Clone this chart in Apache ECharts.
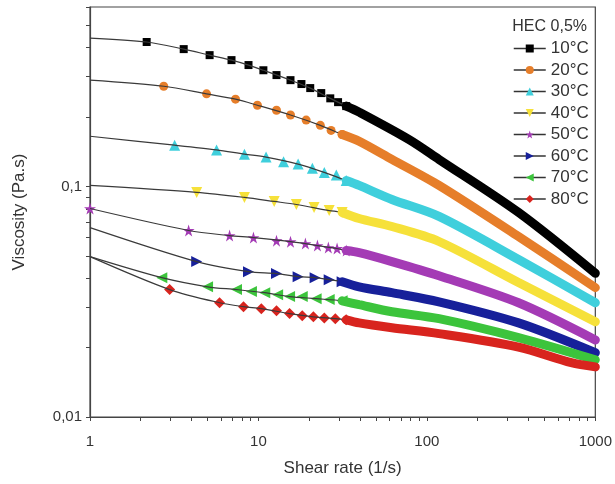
<!DOCTYPE html>
<html>
<head>
<meta charset="UTF-8">
<title>HEC 0,5% viscosity</title>
<script src="https://cdn.jsdelivr.net/npm/echarts@6/dist/echarts.min.js"></script>
<style>
* { margin: 0; padding: 0; }
#main { width: 615px; height: 484px; }
</style>
</head>
<body>
<div id="main"></div>
<script>
var names = ['10°C', '20°C', '30°C', '40°C', '50°C', '60°C', '70°C', '80°C'];
var colors = ['#000000', '#e67e2a', '#3fcfdc', '#f6e13a', '#a43bb5', '#17209a', '#3cc43c', '#d8241e'];
var starPath = 'path://M50,0 L61,35 L98,35 L68,57 L79,91 L50,70 L21,91 L32,57 L2,35 L39,35 Z';
var symbols = ['rect', 'circle', 'triangle', 'triangle', starPath, 'triangle', 'triangle', 'diamond'];
var rotations = [0, 0, 0, 180, 0, -90, 90, 0];
var sizes = [8, 9, 11, 11, 12, 11, 11, 11];

var xMajor = [1, 10, 100, 1000];
var xTicks = [1, 2, 3, 4, 5, 6, 7, 8, 9, 10, 20, 30, 40, 50, 60, 70, 80, 90, 100, 200, 300, 400, 500, 600, 700, 800, 900, 1000];
var yMajor = [0.01, 0.1];
var yTicks = [0.01, 0.02, 0.03, 0.04, 0.05, 0.06, 0.07, 0.08, 0.09, 0.1, 0.2, 0.3, 0.4, 0.5, 0.6];

// thin fitted curves (shear rate, viscosity)
var curve10 = [[1, 0.440], [2.17, 0.423], [3.6, 0.394], [5.13, 0.371], [6.92, 0.353], [8.73, 0.336], [10.7, 0.319], [15.5, 0.289], [20.3, 0.267], [26.7, 0.241], [33.2, 0.223], [39.6, 0.210], [78, 0.160], [118, 0.131], [350, 0.0771], [1000, 0.042]];
var curve20 = [[1, 0.289], [2.74, 0.272], [4.92, 0.252], [7.31, 0.239], [9.86, 0.225], [15.5, 0.204], [23.3, 0.184], [31.4, 0.168], [39.6, 0.157], [62, 0.131], [118, 0.101], [350, 0.0606], [1000, 0.0364]];
var curve30 = [[1, 0.165], [3.18, 0.151], [5.64, 0.144], [8.26, 0.138], [11.1, 0.134], [17.2, 0.125], [24.6, 0.115], [33.2, 0.106], [39.6, 0.101], [62, 0.0878], [118, 0.0741], [350, 0.0482], [1000, 0.0313]];
var curve40 = [[1, 0.101], [4.3, 0.0942], [8.26, 0.0896], [12.4, 0.0861], [16.8, 0.0835], [26.3, 0.0786], [31.4, 0.0771], [39.6, 0.0726], [62, 0.067], [118, 0.0577], [350, 0.0383], [1000, 0.0259]];
var curve50 = [[1, 0.0802], [3.85, 0.0644], [6.74, 0.0612], [9.34, 0.0600], [15.5, 0.0576], [22.4, 0.0554], [29.3, 0.0538], [33.2, 0.0527], [39.6, 0.0516], [62, 0.0472], [118, 0.041], [350, 0.0313], [1000, 0.0216]];
var curve60 = [[1, 0.0663], [4.3, 0.0472], [8.73, 0.0427], [12.8, 0.0419], [17.2, 0.0406], [21.7, 0.0402], [26.3, 0.0394], [31.4, 0.0386], [39.6, 0.0367], [62, 0.0346], [118, 0.0316], [350, 0.0256], [1000, 0.019]];
var curve70 = [[1, 0.0496], [2.67, 0.0402], [4.99, 0.0367], [7.41, 0.0357], [10.9, 0.0346], [15.3, 0.0333], [22.0, 0.0326], [31.4, 0.0319], [39.6, 0.0307], [62, 0.0286], [118, 0.0267], [350, 0.0221], [1000, 0.0177]];
var curve80 = [[1, 0.0496], [2.97, 0.0357], [5.88, 0.0313], [8.15, 0.0301], [10.4, 0.0295], [15.3, 0.0281], [21.2, 0.0272], [28.6, 0.0267], [33.2, 0.0264], [39.6, 0.0256], [62, 0.0244], [118, 0.023], [350, 0.0201], [720, 0.0172], [1000, 0.0165]];

// separate measured markers
var mark10 = [[2.17, 0.423], [3.6, 0.394], [5.13, 0.371], [6.92, 0.353], [8.73, 0.336], [10.7, 0.319], [12.8, 0.304], [15.5, 0.289], [18.0, 0.278], [20.3, 0.267], [23.6, 0.254], [26.7, 0.241], [29.7, 0.232], [33.2, 0.223]];
var mark20 = [[2.74, 0.272], [4.92, 0.252], [7.31, 0.239], [9.86, 0.225], [12.8, 0.214], [15.5, 0.204], [19.2, 0.194], [23.3, 0.184], [27.0, 0.175], [31.4, 0.168]];
var mark30 = [[3.18, 0.151], [5.64, 0.144], [8.26, 0.138], [11.1, 0.134], [14.1, 0.128], [17.2, 0.125], [20.9, 0.120], [24.6, 0.115], [29.0, 0.112], [33.2, 0.106]];
var mark40 = [[4.3, 0.0942], [8.26, 0.0896], [12.4, 0.0861], [16.8, 0.0835], [21.4, 0.0810], [26.3, 0.0786], [31.4, 0.0771]];
var mark50 = [[1, 0.0802], [3.85, 0.0644], [6.74, 0.0612], [9.34, 0.0600], [12.8, 0.0582], [15.5, 0.0576], [19.0, 0.0565], [22.4, 0.0554], [26.0, 0.0543], [29.3, 0.0538], [33.2, 0.0527]];
var mark60 = [[4.3, 0.0472], [8.73, 0.0427], [12.8, 0.0419], [17.2, 0.0406], [21.7, 0.0402], [26.3, 0.0394], [31.4, 0.0386]];
var mark70 = [[2.67, 0.0402], [4.99, 0.0367], [7.41, 0.0357], [9.09, 0.0350], [10.9, 0.0346], [13.0, 0.0339], [15.3, 0.0333], [18.2, 0.0333], [22.0, 0.0326], [26.3, 0.0323], [31.4, 0.0319]];
var mark80 = [[2.97, 0.0357], [5.88, 0.0313], [8.15, 0.0301], [10.4, 0.0295], [12.8, 0.0289], [15.3, 0.0281], [18.2, 0.0275], [21.2, 0.0272], [24.6, 0.0269], [28.6, 0.0267], [33.2, 0.0264]];

var curves = [curve10, curve20, curve30, curve40, curve50, curve60, curve70, curve80];
var marks = [mark10, mark20, mark30, mark40, mark50, mark60, mark70, mark80];

var font = 'Liberation Sans, Arial, sans-serif';
var myChart = echarts.init(document.getElementById('main'));

var fitSeries = [], bandSeries = [], markSeries = [];
for (var i = 0; i < names.length; i++) {
	markSeries.push({
		name: names[i],
		type: 'line',
		data: marks[i],
		symbol: symbols[i],
		symbolSize: sizes[i],
		symbolRotate: rotations[i],
		showAllSymbol: true,
		itemStyle: { color: colors[i] },
		lineStyle: { opacity: 0 },
		z: 2
	});
	fitSeries.push({
		name: names[i] + ' fit',
		type: 'line',
		data: curves[i],
		smooth: 0.3,
		showSymbol: false,
		silent: true,
		lineStyle: { color: '#3a3a3a', width: 1.2 },
		z: 3
	});
	// where the markers pile up into a solid band
	var last = marks[i][marks[i].length - 1];
	var band = [last].concat(curves[i].filter(function (p) { return p[0] > last[0]; }));
	bandSeries.push({
		name: names[i] + ' band',
		type: 'line',
		data: band,
		smooth: 0.3,
		showSymbol: false,
		silent: true,
		lineStyle: { color: colors[i], width: 9, cap: 'round' },
		z: 4
	});
}

var option = {
	animation: false,
	backgroundColor: '#fff',
	textStyle: { fontFamily: font },
	title: {
		text: 'HEC 0,5%',
		right: 28,
		top: 19,
		padding: 0,
		textStyle: { fontFamily: font, fontSize: 16, fontWeight: 'normal', color: '#333' }
	},
	legend: {
		data: names,
		orient: 'vertical',
		left: 513,
		top: 40,
		padding: 0,
		itemWidth: 32,
		itemHeight: 10,
		itemGap: 4.5,
		lineStyle: { color: '#333', width: 1.5, opacity: 1 },
		textStyle: { fontFamily: font, fontSize: 17, color: '#333' }
	},
	grid: {
		left: 90,
		right: 17,
		top: 7,
		bottom: 67,
		show: true,
		borderColor: '#444',
		borderWidth: 1.2,
		backgroundColor: 'transparent'
	},
	xAxis: {
		type: 'log',
		min: 1,
		max: 1000,
		name: 'Shear rate (1/s)',
		nameLocation: 'middle',
		nameGap: 43,
		nameTextStyle: { fontFamily: font, fontSize: 17, color: '#333' },
		axisLine: { lineStyle: { color: '#444', width: 1.2 } },
		axisTick: { customValues: xTicks, length: 4, lineStyle: { color: '#444' } },
		axisLabel: {
			customValues: xMajor,
			margin: 17,
			fontSize: 15,
			color: '#333',
			fontFamily: font,
			formatter: function (v) { return String(Math.round(v)); }
		},
		splitLine: { show: false },
		minorTick: { show: false }
	},
	yAxis: {
		type: 'log',
		min: 0.01,
		max: 0.6,
		name: 'Viscosity (Pa.s)',
		nameLocation: 'middle',
		nameGap: 62,
		nameTextStyle: { fontFamily: font, fontSize: 17, color: '#333' },
		axisLine: { lineStyle: { color: '#444', width: 1.2 } },
		axisTick: { customValues: yTicks, length: 4, lineStyle: { color: '#444' } },
		axisLabel: {
			customValues: yMajor,
			margin: 8,
			fontSize: 15,
			color: '#333',
			fontFamily: font,
			formatter: function (v) { return String(+v.toPrecision(3)).replace('.', ','); }
		},
		splitLine: { show: false },
		minorTick: { show: false }
	},
	series: markSeries.concat(fitSeries, bandSeries)
};
myChart.setOption(option);
</script>
</body>
</html>
